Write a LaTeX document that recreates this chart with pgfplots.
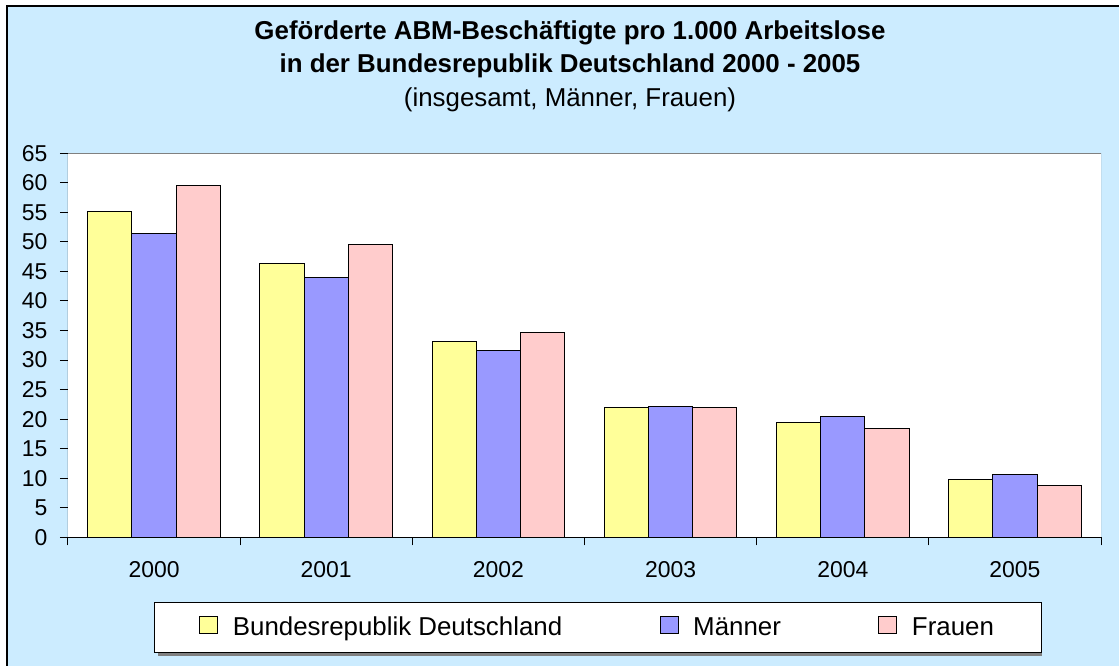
\documentclass[border=0pt]{standalone}
\usepackage{fontspec}
\setmainfont{Liberation Sans}
\usepackage{pgfplots}
\pgfplotsset{compat=1.18}

\definecolor{bgblue}{RGB}{204,236,255}
\definecolor{cbrd}{RGB}{255,255,153}
\definecolor{cmen}{RGB}{153,153,255}
\definecolor{cwom}{RGB}{255,204,204}
\definecolor{frame}{RGB}{128,128,128}

\begin{document}
\begin{tikzpicture}
% background in pixel units of the reference (origin = lower left of the plot area)
\begin{scope}[x=0.75pt, y=0.75pt]
  \useasboundingbox (-68,-128.7) rectangle (1051,537.3);
  \fill[white] (-68,-128.7) rectangle (1051,537.3);
  \fill[bgblue] (-61,-128.7) rectangle (1051,531.3);
  \draw[black, line width=1.5pt] (-61,-128.7) -- (-61,531.3) -- (1051,531.3);
  \node[anchor=base, font=\fontsize{19.4}{23}\selectfont\bfseries] at (502,497.8)
    {Geförderte ABM-Beschäftigte pro 1.000 Arbeitslose};
  \node[anchor=base, font=\fontsize{19.4}{23}\selectfont\bfseries] at (502,464.3)
    {in der Bundesrepublik Deutschland 2000 - 2005};
  \node[anchor=base, font=\fontsize{19.4}{23}\selectfont] at (502,430.3)
    {(insgesamt, Männer, Frauen)};
  % legend shadow line
  \fill[frame] (90,-118.3) rectangle (974,-114.5);
\end{scope}

\begin{axis}[
  width=774.75pt, height=288pt, scale only axis,
  xmin=-0.5, xmax=5.5, ymin=0, ymax=65,
  ybar=0pt, bar width=0.257,
  axis background/.style={fill=white},
  axis line style={draw=none},
  xtick={0,1,2,3,4,5},
  xticklabels={2000,2001,2002,2003,2004,2005},
  minor xtick={-0.5,0.5,1.5,2.5,3.5,4.5,5.5},
  major x tick style={draw=none},
  ytick={0,5,...,65},
  tick pos=left, tick align=outside,
  major tick length=6pt, minor tick length=6pt,
  tick style={black, line width=0.75pt},
  /pgf/number format/assume math mode=true,
  ticklabel style={font=\fontsize{17.2}{20}\selectfont},
  yticklabel style={xshift=-6pt},
  xticklabel style={yshift=-8.3pt},
  legend columns=3,
  legend image code/.code={\draw[#1, draw=black, line width=0.75pt] (0pt,-4.5pt) rectangle (13.5pt,8.5pt);},
  legend style={
    at={(0.513,-0.2346)}, anchor=center,
    draw=black, fill=white, line width=0.75pt,
    font=\fontsize{19.4}{23}\selectfont,
    inner xsep=33.5pt, inner ysep=9pt,
    /tikz/every odd column/.append style={column sep=9pt},
    /tikz/every even column/.append style={column sep=71pt},
  },
]
\addplot[fill=cbrd, draw=black, line width=0.75pt] coordinates {
  (0,55.2) (1,46.3) (2,33.1) (3,22.0) (4,19.5) (5,9.8)};
\addlegendentry{Bundesrepublik Deutschland}
\addplot[fill=cmen, draw=black, line width=0.75pt] coordinates {
  (0,51.5) (1,44.0) (2,31.7) (3,22.2) (4,20.4) (5,10.6)};
\addlegendentry{Männer}
\addplot[fill=cwom, draw=black, line width=0.75pt] coordinates {
  (0,59.6) (1,49.6) (2,34.6) (3,22.0) (4,18.5) (5,8.7)};
\addlegendentry{Frauen}
\draw[frame, line width=0.75pt] (rel axis cs:0,1) -- (rel axis cs:1,1) -- (rel axis cs:1,0);
\draw[black, line width=0.75pt] (rel axis cs:0,1) -- (rel axis cs:0,0) -- (rel axis cs:1,0);
\end{axis}
\end{tikzpicture}
\end{document}
